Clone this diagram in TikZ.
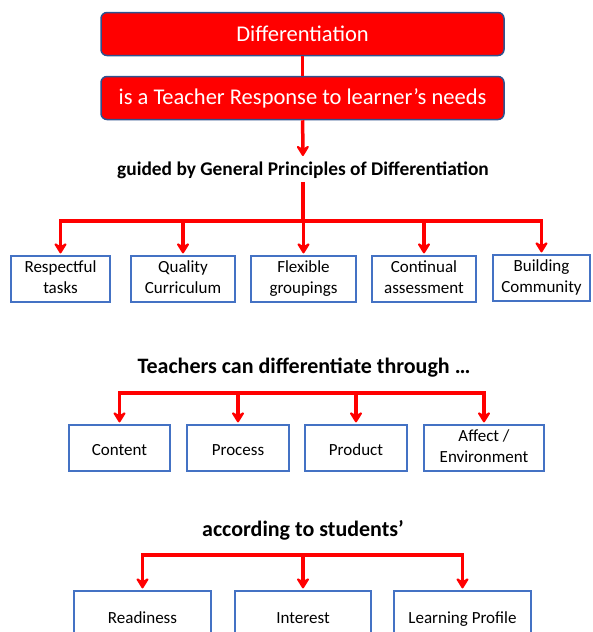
\documentclass[tikz,border=0pt]{standalone}
\usepackage{fontspec}
\setmainfont{Carlito}
\usetikzlibrary{arrows.meta, positioning}
\definecolor{boxred}{RGB}{255,0,0}
\definecolor{edgeblue}{RGB}{47,82,143}
\definecolor{boxblue}{RGB}{68,114,196}
\newcommand\itemstrut{\rule[-0.15\baselineskip]{0pt}{\baselineskip}}

\begin{document}
\begin{tikzpicture}[x=1pt, y=-1pt,
topbox/.style={draw=edgeblue, fill=boxred, line width=1.5pt, rounded corners=6pt, text=white, minimum width=403pt, minimum height=43pt, font=\fontsize{22.5}{26}\selectfont},
heading/.style={font=\bfseries\fontsize{22}{26}\selectfont},
item/.style={draw=boxblue, line width=1.2pt, align=center, minimum height=46pt, inner sep=1pt, font=\fontsize{17}{21}\selectfont, execute at begin node=\itemstrut, execute at end node=\itemstrut},
link/.style={draw=boxred, line width=3.5pt},
arrow/.style={link, -{Stealth[length=13pt, width=16pt, inset=5pt, round]}, shorten >=2pt}
]
\useasboundingbox (0,0) rectangle (592,632);

\node[topbox] (diff) at (302.5,34) {Differentiation};
\node[topbox] (resp) at (302.5,98) {is a Teacher Response to learner’s needs};

\node[heading, font=\bfseries\fontsize{19.4}{22}\selectfont] (guided) at (303,170) {guided by General Principles of Differentiation};

\node[item, minimum width=99pt] (respectful) at (60.5,279) {Respectful\\tasks};
\node[item, minimum width=104pt] (quality) at (183,279) {Quality\\Curriculum};
\node[item, minimum width=105pt] (flexible) at (303.5,279) {Flexible\\groupings};
\node[item, minimum width=104pt] (continual) at (424,279) {Continual\\assessment};
\node[item, minimum width=97pt] (building) at (541.5,278) {Building\\Community};

\node[heading] (through) at (304,368) {Teachers can differentiate through …};

\node[item, minimum width=101pt] (content) at (119.5,448) {Content};
\node[item, minimum width=102pt] (process) at (238,448) {Process};
\node[item, minimum width=102pt] (product) at (356,448) {Product};
\node[item, minimum width=120pt] (affect) at (484,448) {Affect /\\Environment};

\node[heading] (according) at (303,530) {according to students’};

\node[item, minimum width=137pt, minimum height=50pt] (readiness) at (142.5,616) {Readiness};
\node[item, minimum width=136pt, minimum height=50pt] (interest) at (303,616) {Interest};
\node[item, minimum width=137pt, minimum height=50pt] (profile) at (462.5,616) {Learning Profile};

\coordinate (bus1) at (303,221);
\coordinate (bus2) at (303,393);
\coordinate (bus3) at (303,555);

\draw[link] (diff) -- (resp);
\draw[arrow] (resp) -- (guided);
\draw[link] (guided) -- (bus1);
\foreach \n in {respectful, quality, flexible, continual, building}
  \draw[arrow] (bus1) -| (\n.north);
\foreach \n in {content, process, product, affect}
  \draw[arrow] (bus2) -| (\n.north);
\foreach \n in {readiness, interest, profile}
  \draw[arrow] (bus3) -| (\n.north);

\end{tikzpicture}
\end{document}
